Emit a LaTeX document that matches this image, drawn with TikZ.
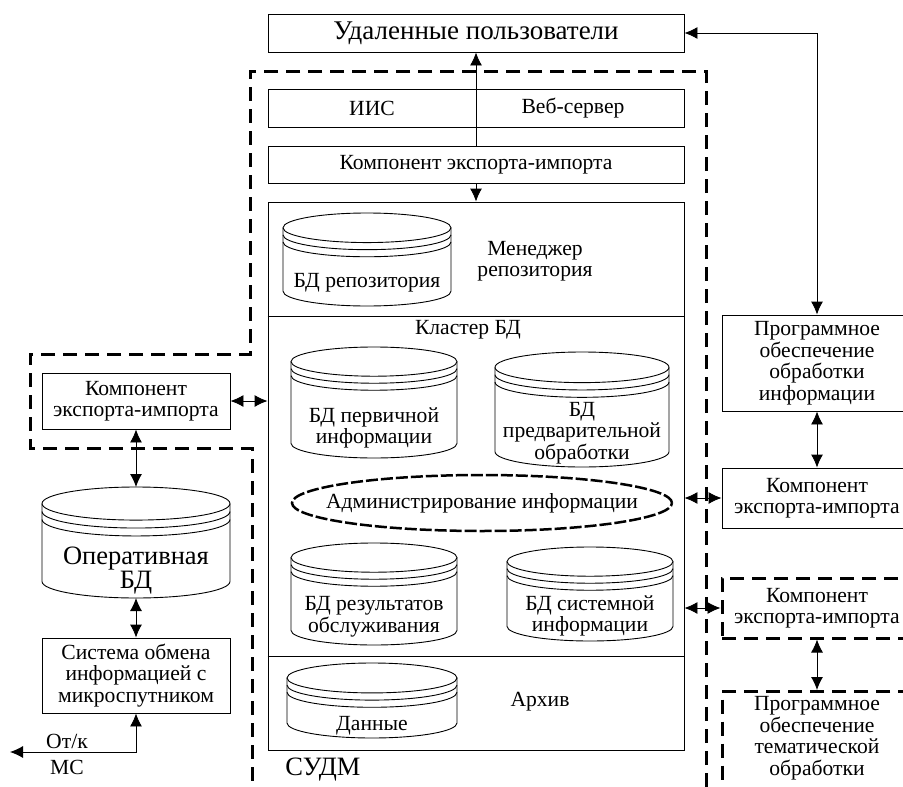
\documentclass[tikz,border=0pt]{standalone}
\usepackage{fontspec}
\setmainfont{Liberation Serif}
\usetikzlibrary{arrows.meta}

\tikzset{
  blok/.style={draw, line width=0.9pt, align=center, inner sep=0pt},
  dashblok/.style={blok, line width=3pt, dash pattern=on 14pt off 8pt},
  bound/.style={line width=3pt, dash pattern=on 14pt off 8pt},
  adm/.style={line width=2.5pt, dash pattern=on 12pt off 3pt},
  link/.style={line width=0.9pt, {Latex[length=13pt,width=12pt]}-{Latex[length=13pt,width=12pt]}},
  uplink/.style={line width=0.9pt, -{Latex[length=13pt,width=12pt]}},
  drum/.style={line width=0.9pt},
  txt/.style={align=center, inner sep=0pt},
  big/.style={font=\fontsize{26.5}{24}\selectfont},
}

% database barrel: name, left, top, right, bottom
\newcommand{\dbdrum}[5]{%
  \pgfmathsetmacro{\dcx}{(#2+#4)/2}
  \pgfmathsetmacro{\drx}{(#4-#2)/2}
  \pgfmathsetmacro{\dry}{0.088*(#4-#2)}
  \pgfmathsetmacro{\dgap}{0.48*\dry}
  \draw[drum] (#2,#3-\dry) -- (#2,#5+\dry)
    arc[start angle=180, end angle=360, x radius=\drx, y radius=\dry] -- (#4,#3-\dry);
  \draw[drum] (\dcx,#3-\dry) ellipse[x radius=\drx, y radius=\dry];
  \draw[drum] (#2,#3-\dry-\dgap) arc[start angle=180, end angle=360, x radius=\drx, y radius=\dry];
  \draw[drum] (#2,#3-\dry-2*\dgap) arc[start angle=180, end angle=360, x radius=\drx, y radius=\dry];
  \coordinate (#1-top) at (\dcx,#3);
  \coordinate (#1-bot) at (\dcx,#5);
}

\begin{document}
\begin{tikzpicture}[x=1pt, y=1pt, font=\fontsize{21.6}{21.5}\selectfont, every node/.style={txt}]
  \useasboundingbox (0,0) rectangle (903,-787);
  \clip (0,0) rectangle (903,-787);

  % top
  \node[blok, font=\fontsize{27}{27}\selectfont, minimum width=416pt, minimum height=38pt] (users) at (476,-33) {Удаленные пользователи};
  \node[blok, minimum width=416pt, minimum height=38pt] (iis) at (476,-108) {};
  \node (iist) at (372,-108) {ИИС};
  \node (webt) at (573,-108) {Веб-сервер};
  \node[blok, minimum width=416pt, minimum height=37pt] (eicore) at (476,-164.5) {Компонент экспорта-импорта};

  % SUDM
  \node[blok, minimum width=416pt, minimum height=548pt] (sudm) at (476,-476) {};
  \draw[drum] (sudm.west |- 0,-316) -- (sudm.east |- 0,-316);
  \draw[drum] (sudm.west |- 0,-656) -- (sudm.east |- 0,-656);
  \node (mgr) at (535,-261) {Менеджер\\репозитория};
  \node (klaster) at (468,-330) {Кластер БД};
  \node (arkhiv) at (540,-702) {Архив};
  \node[big] (sudmt) at (323,-770) {СУДМ};

  \dbdrum{repo}{283}{-213}{451}{-306}
  \node (repot) at (367,-283) {БД репозитория};
  \dbdrum{perv}{291}{-347}{457}{-458}
  \node (pervt) at (374,-428) {БД первичной\\информации};
  \dbdrum{predv}{495}{-352}{669}{-467}
  \node (predvt) at (582,-433) {БД\\предварительной\\обработки};
  \node (admin) at (482,-503) {Администрирование информации};
  \draw[adm] (admin.center) ellipse[x radius=190, y radius=28];
  \dbdrum{rez}{291}{-543}{457}{-645}
  \node (rezt) at (374,-617) {БД результатов\\обслуживания};
  \dbdrum{sys}{507}{-547}{673}{-641}
  \node (syst) at (590,-616) {БД системной\\информации};
  \dbdrum{data}{287}{-663}{457}{-738}
  \node (datat) at (372,-726) {Данные};

  % boundary
  \draw[bound] (706,-787) -- (706,-71) -- (250,-71) -- (250,-354) -- (30,-354)
    -- (30,-448) -- (252,-448) -- (252,-787);

  % left
  \node[blok, minimum width=188pt, minimum height=56pt] (eileft) at (136,-401) {Компонент\\экспорта-импорта};
  \dbdrum{oper}{42}{-487}{230}{-598}
  \node[big] (opert) at (136,-571) {Оперативная\\БД};
  \node[blok, minimum width=188pt, minimum height=75pt] (smc) at (136,-675.5) {Система обмена\\информацией с\\микроспутником};
  \coordinate (ms) at (10,-752);
  \node (otk) at (67,-741) {От/к};
  \node (mst) at (67,-767) {МС};

  % right
  \node[blok, minimum width=190pt, minimum height=96pt] (po1) at (817,-363) {Программное\\обеспечение\\обработки\\информации};
  \node[blok, minimum width=190pt, minimum height=60pt] (eir1) at (817,-498) {Компонент\\экспорта-импорта};
  \node[dashblok, minimum width=190pt, minimum height=60pt] (eir2) at (817,-608) {Компонент\\экспорта-импорта};
  \node[dashblok, minimum width=190pt, minimum height=140pt, anchor=north] (po2) at (817,-690) {};
  \node (po2t) at (817,-738) {Программное\\обеспечение\\тематической\\обработки};

  % connectors
  \draw[uplink] (eicore.north) -- (users.south);
  \draw[uplink] (eicore.south) -- (sudm.north);
  \draw[link] (users.east) -| (po1.north);
  \draw[link] (po1.south) -- (eir1.north);
  \draw[link] (eir1.west) -- (eir1.west -| sudm.east);
  \draw[link] (eir2.west) -- (eir2.west -| sudm.east);
  \draw[link] (eir2.south) -- (po2.north);
  \draw[link] (eileft.east) -- (eileft.east -| sudm.west);
  \draw[link] (eileft.south) -- (oper-top);
  \draw[link] (oper-bot) -- (smc.north);
  \draw[link] (ms) -| (smc.south);
\end{tikzpicture}
\end{document}
